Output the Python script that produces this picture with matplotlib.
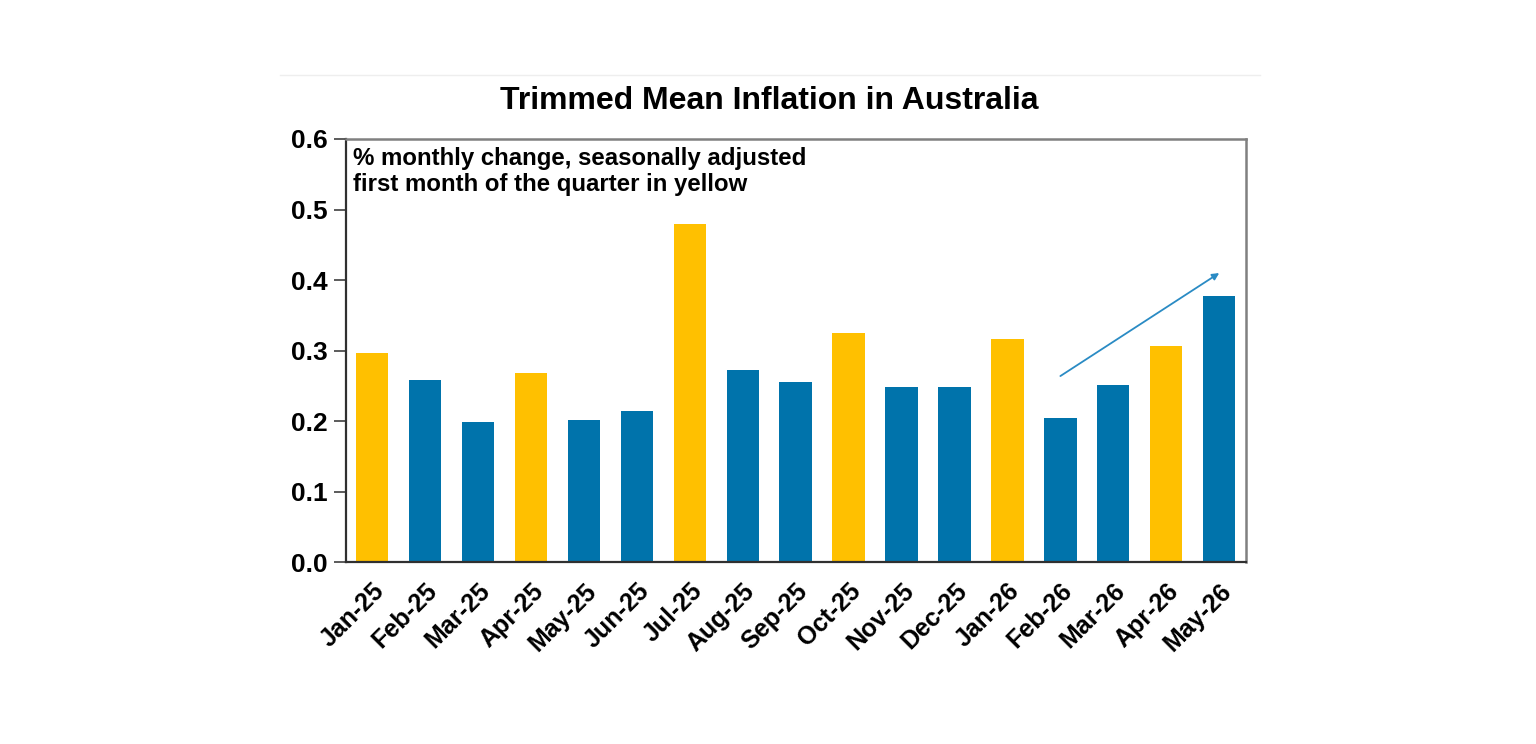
import matplotlib.pyplot as plt
from matplotlib.lines import Line2D

plt.rcParams['font.family'] = ['Liberation Sans', 'DejaVu Sans']

months = ['Jan-25', 'Feb-25', 'Mar-25', 'Apr-25', 'May-25', 'Jun-25',
          'Jul-25', 'Aug-25', 'Sep-25', 'Oct-25', 'Nov-25', 'Dec-25',
          'Jan-26', 'Feb-26', 'Mar-26', 'Apr-26', 'May-26']
values = [0.297, 0.258, 0.199, 0.268, 0.201, 0.214,
          0.480, 0.273, 0.255, 0.325, 0.249, 0.249,
          0.317, 0.205, 0.252, 0.307, 0.377]
# first month of the quarter in yellow
first_of_quarter = [True, False, False, True, False, False,
                    True, False, False, True, False, False,
                    True, False, False, True, False]

# trend arrow (from Feb-26 to May-26)
arrow_start = (13, 0.264)
arrow_end = (16, 0.41)

yellow = '#FFC000'
blue = '#0073AB'
colors = [yellow if q else blue for q in first_of_quarter]

fig = plt.figure(figsize=(15.36, 7.44), dpi=100)
ax = fig.add_axes([0.225, 0.2442, 0.586, 0.569])

x = list(range(len(months)))
ax.bar(x, values, width=0.61, color=colors, zorder=2)

ax.set_xlim(-0.5, len(months) - 0.5)
ax.set_ylim(0, 0.6)
ax.set_yticks([0.0, 0.1, 0.2, 0.3, 0.4, 0.5, 0.6])
ax.set_yticklabels(['%.1f' % v for v in ax.get_yticks()],
                   fontsize=19, fontweight='bold')
ax.set_xticks(x)
ax.set_xticklabels(months, rotation=45, ha='right', rotation_mode='anchor',
                   fontsize=18, fontweight='bold')
ax.tick_params(axis='x', length=0, pad=12)
ax.tick_params(axis='y', length=9, width=1.2, color='#404040', pad=4)

for side in ['left', 'bottom']:
    ax.spines[side].set_color('#303030')
    ax.spines[side].set_linewidth(1.6)
for side in ['top', 'right']:
    ax.spines[side].set_color('#808080')
    ax.spines[side].set_linewidth(1.8)

ax.annotate('', xy=arrow_end, xytext=arrow_start,
            arrowprops=dict(arrowstyle='-|>', color='#2A8BC4', lw=1.3,
                            mutation_scale=10, shrinkA=0, shrinkB=0),
            zorder=3)

ax.text(0.008, 0.98, '% monthly change, seasonally adjusted\nfirst month of the quarter in yellow',
        transform=ax.transAxes, ha='left', va='top', fontsize=17.3,
        fontweight='bold', linespacing=1.15)

fig.text(0.501, 0.864, 'Trimmed Mean Inflation in Australia', ha='center',
         va='center', fontsize=23, fontweight='bold')

fig.add_artist(Line2D([0.182, 0.82], [0.899, 0.899], transform=fig.transFigure,
                      color='#EEEEEE', lw=1))

fig.savefig('out.png', dpi=100, facecolor='white')
